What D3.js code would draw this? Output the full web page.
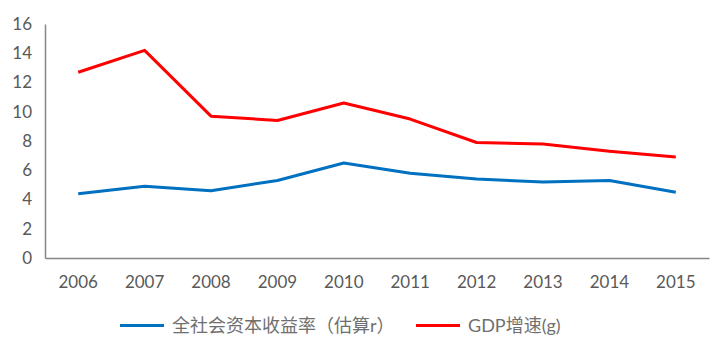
<!DOCTYPE html>
<html>
<head>
<meta charset="utf-8">
<script src="https://cdn.jsdelivr.net/npm/d3@7"></script>
<style>
  body { margin: 0; background: #fff; }
  svg text { font-family: Lato, "Noto Sans CJK SC", sans-serif; fill: #595959; }
</style>
</head>
<body>
<svg id="chart"></svg>
<script>
var years = ["2006", "2007", "2008", "2009", "2010", "2011", "2012", "2013", "2014", "2015"];
var returnRate = [4.4, 4.9, 4.6, 5.3, 6.5, 5.8, 5.4, 5.2, 5.3, 4.5];
var gdpGrowth = [12.7, 14.2, 9.7, 9.4, 10.6, 9.5, 7.9, 7.8, 7.3, 6.9];
var yTicks = [0, 2, 4, 6, 8, 10, 12, 14, 16];
var seriesNames = ["全社会资本收益率（估算r）", "GDP增速(g)"];
var seriesColors = ["#0070c0", "#ff0000"];

var dimensions = {
    width: 714,
    height: 352,
    margin: { top: 24, bottom: 94, right: 5, left: 45 }
}

var svg = d3.select("#chart")
    .attr("width", dimensions.width)
    .attr("height", dimensions.height)

var xScale = d3.scaleBand()
    .domain(years)
    .range([dimensions.margin.left, dimensions.width - dimensions.margin.right])
var yScale = d3.scaleLinear()
    .domain([0, 16])
    .range([dimensions.height - dimensions.margin.bottom, dimensions.margin.top])

var baseY = dimensions.height - dimensions.margin.bottom

// x axis
var xAxis = svg.append("g")
    .attr("transform", `translate(0,${baseY})`)
    .call(d3.axisBottom(xScale).tickSize(0).tickPadding(18))
xAxis.select(".domain").attr("stroke", "#868686").attr("stroke-width", 1.5)
xAxis.selectAll("text").style("font-size", "17px")

// y axis
var yAxis = svg.append("g")
    .attr("transform", `translate(${dimensions.margin.left},0)`)
    .call(d3.axisLeft(yScale).tickValues(yTicks).tickSize(0).tickPadding(13))
yAxis.select(".domain").attr("stroke", "#868686").attr("stroke-width", 1.5)
yAxis.selectAll("text").style("font-size", "17px")

var line = d3.line()
    .x((d, i) => xScale(years[i]) + xScale.bandwidth() / 2)
    .y(d => yScale(d))

var series = [returnRate, gdpGrowth]
svg.selectAll(".series")
    .data(series)
    .enter()
    .append("path")
    .attr("class", "series")
    .attr("d", d => line(d))
    .attr("fill", "none")
    .attr("stroke", (d, i) => seriesColors[i])
    .attr("stroke-width", 3)
    .attr("stroke-linejoin", "round")

// legend
var legendX = [120, 416]
var legendY = 325.5
var legend = svg.selectAll(".legend")
    .data(seriesNames)
    .enter()
    .append("g")
    .attr("class", "legend")
    .attr("transform", (d, i) => `translate(${legendX[i]},${legendY})`)
legend.append("line")
    .attr("x1", 0).attr("x2", 44)
    .attr("stroke", (d, i) => seriesColors[i])
    .attr("stroke-width", 3)
legend.append("text")
    .attr("x", 52)
    .attr("dy", "0.35em")
    .style("font-size", "18px")
    .style("fill", "#6f6f6f")
    .text(d => d)
</script>
</body>
</html>
